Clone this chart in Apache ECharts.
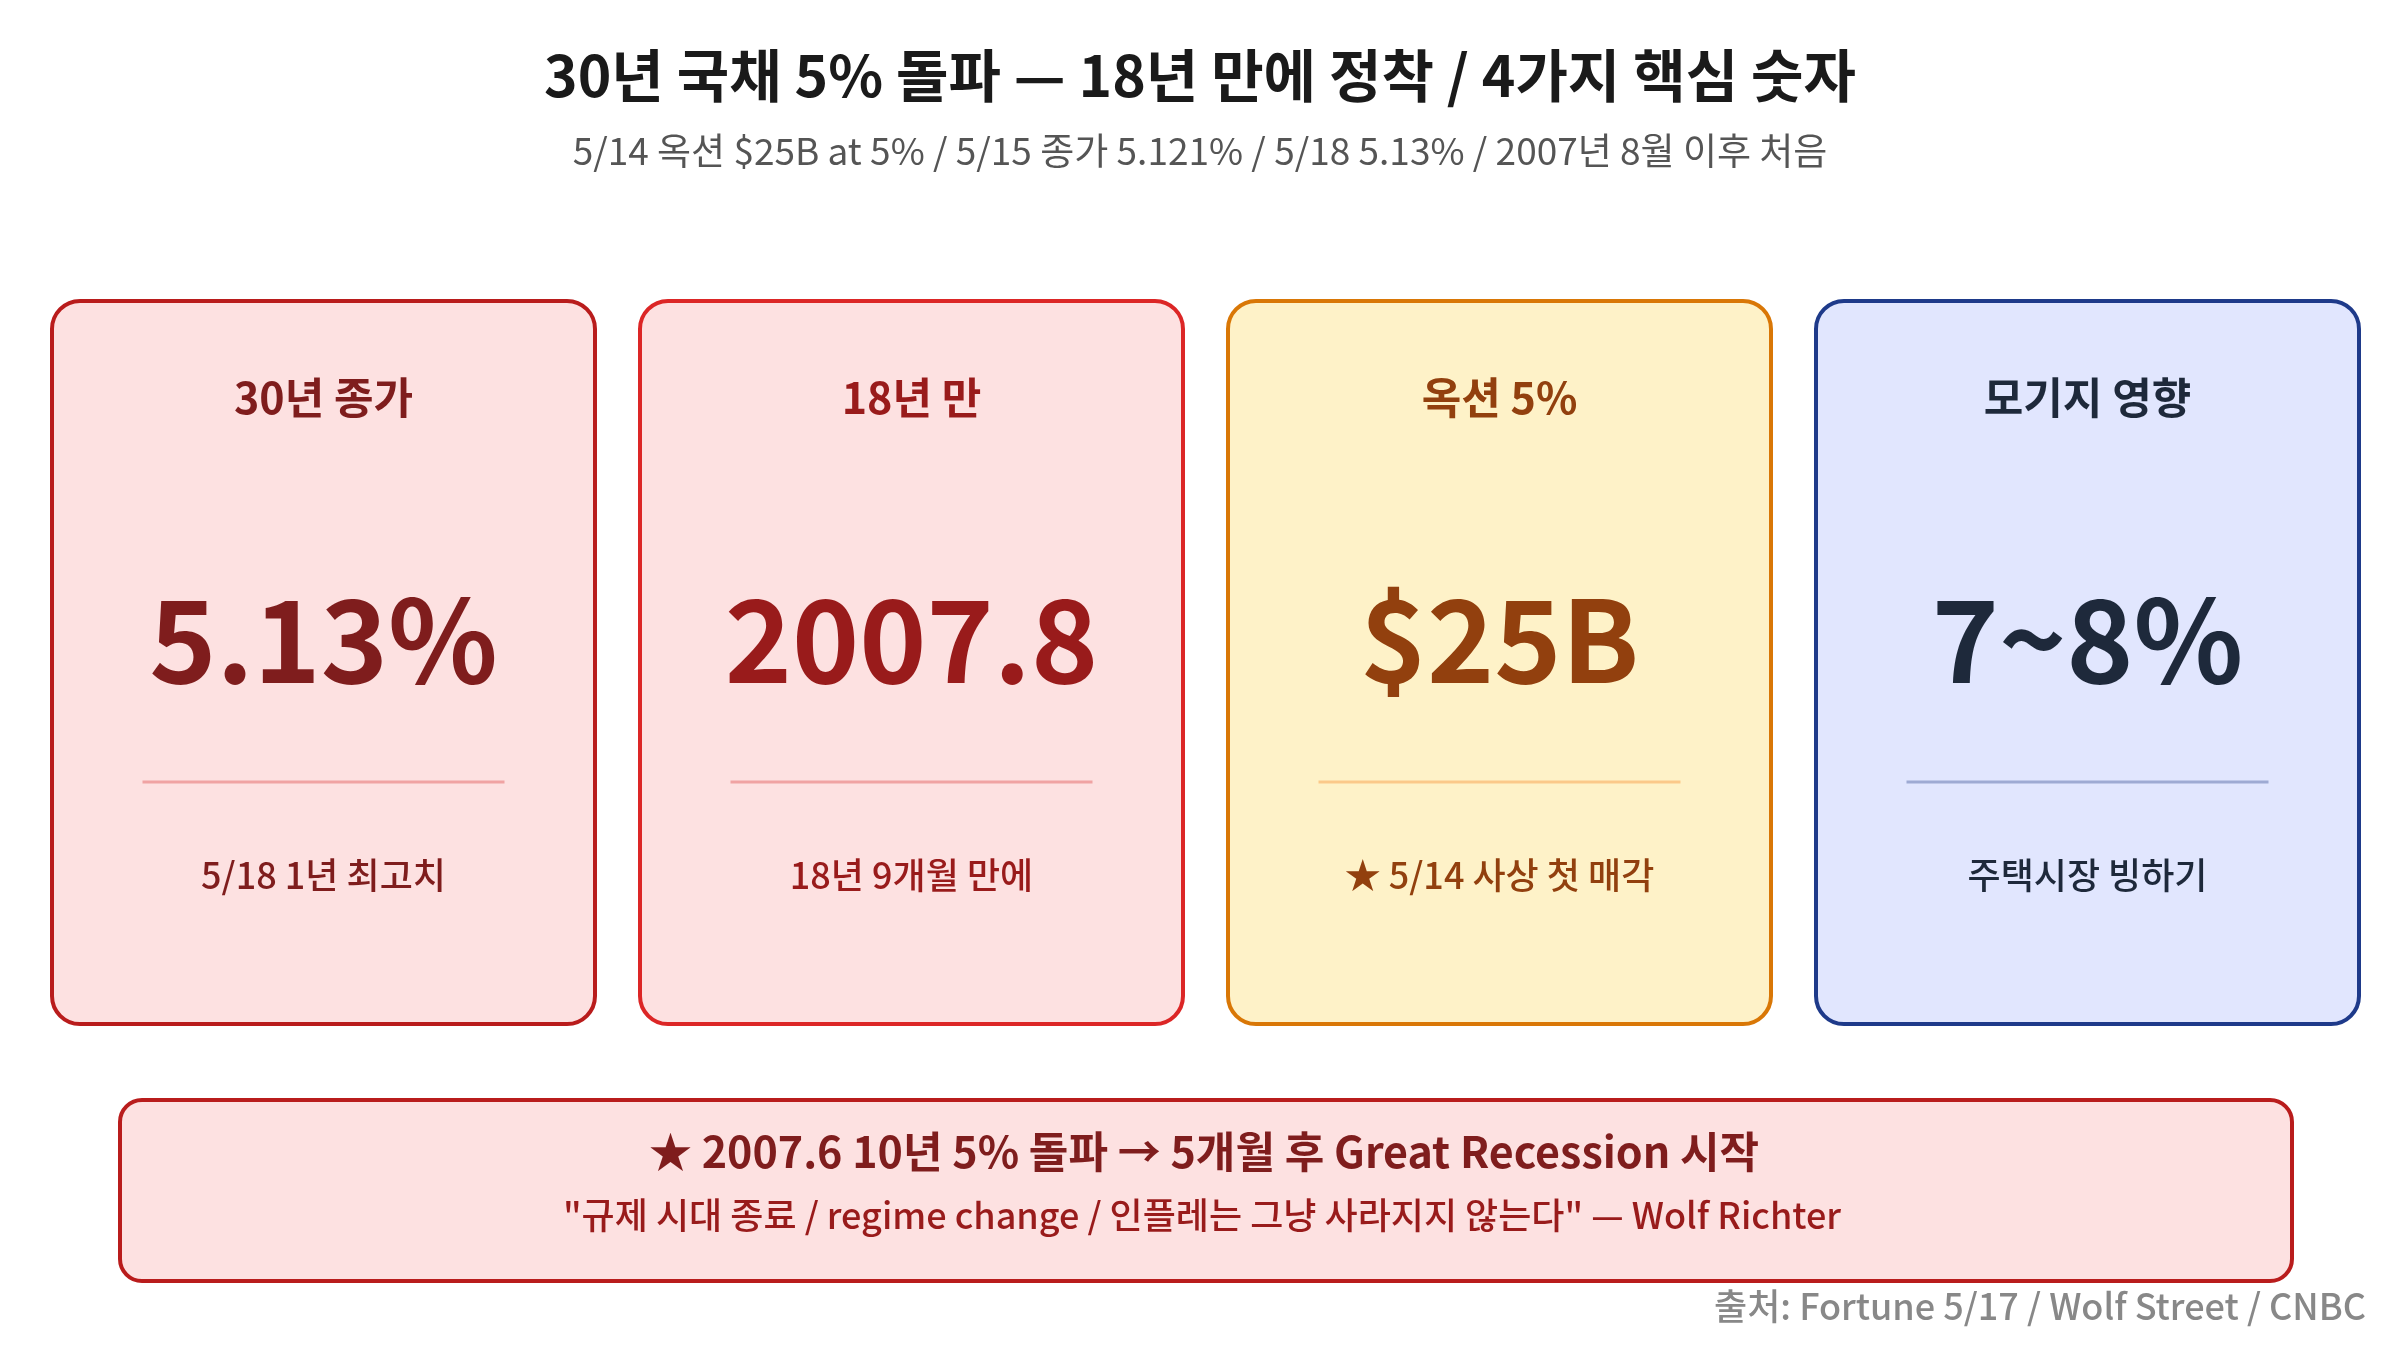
<!DOCTYPE html>
<html>
<head>
<meta charset="utf-8">
<script src="https://cdn.jsdelivr.net/npm/echarts@6/dist/echarts.min.js"></script>
<style>
  html, body { margin: 0; padding: 0; background: #fff; }
  #main { width: 2400px; height: 1350px; }
</style>
</head>
<body>
<div id="main"></div>
<script>
// 텍스트 / 값
var titleText = '30년 국채 5% 돌파 — 18년 만에 정착 / 4가지 핵심 숫자';
var subText = '5/14 옥션 $25B at 5% / 5/15 종가 5.121% / 5/18 5.13% / 2007년 8월 이후 처음';
var cardLabels = ['30년 종가', '18년 만', '옥션 5%', '모기지 영향'];
var cardValues = ['5.13%', '2007.8', '$25B', '7~8%'];
var cardNotes = ['5/18 1년 최고치', '18년 9개월 만에', '★ 5/14 사상 첫 매각', '주택시장 빙하기'];
var calloutLines = [
    '★ 2007.6 10년 5% 돌파 → 5개월 후 Great Recession 시작',
    '"규제 시대 종료 / regime change / 인플레는 그냥 사라지지 않는다" — Wolf Richter'
];
var sourceText = '출처: Fortune 5/17 / Wolf Street / CNBC';

// 카드 색
var cardFill = ['#fde1e1', '#fde1e1', '#fef2c8', '#e1e6fe'];
var cardStroke = ['#b91c1c', '#dc2626', '#d97706', '#1e3a8a'];
var cardInk = ['#7f1d1d', '#991b1b', '#92400e', '#1e293b'];
var cardRule = ['#f0a3a3', '#f0a3a3', '#fbc98a', '#9eaad3'];

var FONT = '"Noto Sans CJK KR", "Noto Sans", sans-serif';
var myChart = echarts.init(document.getElementById('main'));

function buildGraphics() {
    var els = [];
    var cardW = 543, cardH = 723, cardTop = 301, gap = 45, left0 = 52;
    for (var i = 0; i < cardLabels.length; i++) {
        var x = left0 + i * (cardW + gap);
        var cx = x + cardW / 2;
        els.push({
            type: 'rect',
            shape: { x: x, y: cardTop, width: cardW, height: cardH, r: 28 },
            style: { fill: cardFill[i], stroke: cardStroke[i], lineWidth: 4 }
        });
        els.push({
            type: 'text', x: cx, y: 398,
            style: { text: cardLabels[i], fill: cardInk[i], font: 'bold 43px ' + FONT, align: 'center', verticalAlign: 'middle' }
        });
        els.push({
            type: 'text', x: cx, y: 640,
            style: { text: cardValues[i], fill: cardInk[i], font: 'bold 114px ' + FONT, align: 'center', verticalAlign: 'middle' }
        });
        els.push({
            type: 'line',
            shape: { x1: cx - 181, y1: 782, x2: cx + 181, y2: 782 },
            style: { stroke: cardRule[i], lineWidth: 3 }
        });
        els.push({
            type: 'text', x: cx, y: 875,
            style: { text: cardNotes[i], fill: cardInk[i], font: '500 36px ' + FONT, align: 'center', verticalAlign: 'middle' }
        });
    }
    // 하단 박스
    els.push({
        type: 'rect',
        shape: { x: 120, y: 1100, width: 2172, height: 181, r: 22 },
        style: { fill: '#fde1e1', stroke: '#b91c1c', lineWidth: 4 }
    });
    els.push({
        type: 'text', x: 1204, y: 1152,
        style: { text: calloutLines[0], fill: '#7f1d1d', font: 'bold 43px ' + FONT, align: 'center', verticalAlign: 'middle' }
    });
    els.push({
        type: 'text', x: 1202, y: 1215,
        style: { text: calloutLines[1], fill: '#991b1b', font: '500 36px ' + FONT, align: 'center', verticalAlign: 'middle' }
    });
    els.push({
        type: 'text', x: 2366, y: 1306,
        style: { text: sourceText, fill: '#888888', font: '500 36px ' + FONT, align: 'right', verticalAlign: 'middle' }
    });
    return els;
}

var option = {
    backgroundColor: '#ffffff',
    title: {
        text: titleText,
        subtext: subText,
        left: 'center',
        top: 42,
        itemGap: 28,
        textStyle: { fontFamily: FONT, fontSize: 57, fontWeight: 'bold', color: '#1a1a1a' },
        subtextStyle: { fontFamily: FONT, fontSize: 37, color: '#555555' }
    },
    graphic: buildGraphics()
};
myChart.setOption(option);
</script>
</body>
</html>
